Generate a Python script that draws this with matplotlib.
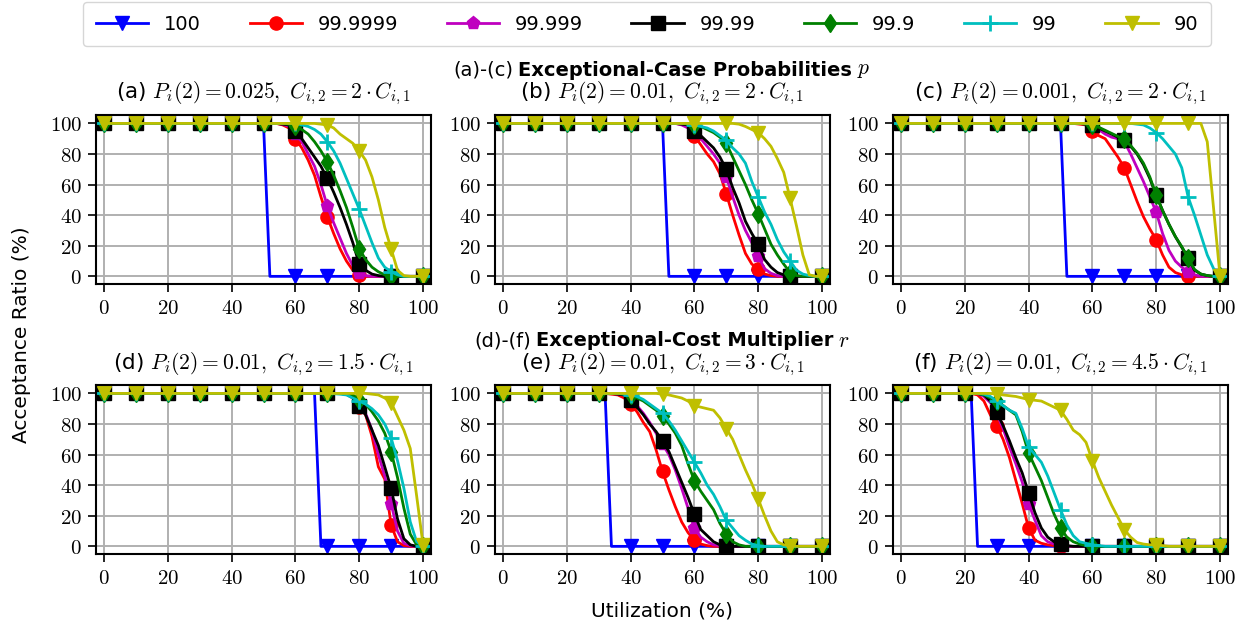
import matplotlib
matplotlib.use("Agg")
import matplotlib.pyplot as plt
import numpy as np

plt.rcParams['font.family'] = ['DejaVu Sans']
plt.rcParams['mathtext.fontset'] = 'cm'

# utilization grid (%), values every 2 %
util = list(range(0, 101, 2))

labels = ['100', '99.9999', '99.999', '99.99', '99.9', '99', '90']
colors = ['b', 'r', 'm', 'k', 'g', 'c', 'y']
markers = ['v', 'o', 'p', 's', 'd', '+', 'v']

# (a) P_i(2)=0.025, C_i2 = 2 C_i1
a_100 = [100] * 26 + [0] * 25
a_99_9999 = [100] * 28 + [99, 97, 90, 84, 76, 66, 52, 39, 28, 18, 10, 4, 1] + [0] * 10
a_99_999 = [100] * 28 + [99.5, 98, 93, 88, 80, 72, 60, 46, 35, 25, 15, 7, 2, 0.5] + [0] * 9
a_99_99 = [100] * 28 + [99.5, 99, 95, 90, 84, 78, 72, 64, 55, 45, 34, 22, 8, 4, 1.5, 0.5] + [0] * 7
a_99_9 = [100] * 29 + [99.5, 98, 96, 93, 88, 82, 75, 66, 56, 45, 32, 18, 11, 6, 3, 1, 0.5] + [0] * 5
a_99 = [100] * 31 + [99, 98, 96, 93, 88, 82, 74, 64, 54, 44, 33, 22, 12, 6, 3, 1] + [0] * 4
a_90 = [100] * 34 + [99.5, 99, 97, 93, 90, 87, 82, 76, 65, 50, 32, 18, 4, 0.5] + [0] * 3

# (b) P_i(2)=0.01, C_i2 = 2 C_i1
b_100 = [100] * 26 + [0] * 25
b_99_9999 = [100] * 28 + [99.5, 98, 92, 86, 80, 75, 67, 54, 40, 27, 15, 8, 5, 1.5, 0.5] + [0] * 8
b_99_999 = [100] * 28 + [99, 97, 94, 90, 85, 80, 74, 65, 52, 40, 30, 22, 13, 5, 2, 0.5] + [0] * 7
b_99_99 = [100] * 28 + [99.5, 99, 95, 92, 88, 84, 78, 70, 58, 48, 36, 28, 21, 11, 6, 2.5, 1, 0.5] + [0] * 5
b_99_9 = [100] * 29 + [99.5, 99, 98, 96, 94, 91, 87, 78, 69, 60, 50, 41, 31, 21, 14, 8, 2.5, 0.5] + [0] * 4
b_99 = [100] * 30 + [99, 98, 97, 95, 92, 89, 84, 80, 74, 62, 52, 42, 34, 24, 16, 10, 4, 1.5, 0.5] + [0] * 2
b_90 = [100] * 37 + [99.5, 98, 96, 94, 90, 85, 77, 68, 51, 33, 14, 1] + [0] * 2

# (c) P_i(2)=0.001, C_i2 = 2 C_i1
c_100 = [100] * 26 + [0] * 25
c_99_9999 = [100] * 28 + [99.5, 99, 95, 92, 90, 84, 78, 71, 60, 49, 39, 31, 24, 14, 6, 2.5, 1] + [0] * 6
c_99_999 = [100] * 29 + [99.5, 98, 96, 93, 91, 90, 88, 80, 71, 62, 52, 42, 28, 17, 10, 6, 3, 1] + [0] * 4
c_99_99 = [100] * 29 + [99.5, 99, 97, 95, 93, 91, 89, 85, 80, 73, 64, 53, 43, 34, 26, 19, 12, 4, 1.5, 0.5] + [0] * 2
c_99_9 = [100] * 29 + [99.5, 99, 97.5, 95.5, 93.5, 91.5, 89.5, 85.5, 80.5, 74, 65, 53, 43, 34, 26, 19.5, 12, 4.5, 1.5, 0.5] + [0] * 2
c_99 = [100] * 37 + [99.5, 99, 97, 94, 90, 85, 80, 71, 52, 40, 27, 14, 5, 0.5]
c_90 = [100] * 48 + [88, 44, 0]

# (d) P_i(2)=0.01, C_i2 = 1.5 C_i1
d_100 = [100] * 34 + [0] * 17
d_99_9999 = [100] * 38 + [99.5, 97, 91, 86, 72, 52, 44, 14, 3, 0.5] + [0] * 3
d_99_999 = [100] * 38 + [99.5, 97, 93, 87, 76, 60, 46, 28, 10, 2, 0.5] + [0] * 2
d_99_99 = [100] * 38 + [99.5, 98, 92, 86, 76, 66, 52, 38, 18, 5, 1] + [0] * 2
d_99_9 = [100] * 39 + [99, 96, 93, 88, 82, 74, 62, 45, 25, 8, 1] + [0] * 1
d_99 = [100] * 36 + [99.8, 99.5, 99, 97, 95, 93, 90, 86, 80, 71, 56, 38, 16, 3, 0]
d_90 = [100] * 42 + [99.5, 99, 97, 94, 85, 76, 64, 33, 1]

# (e) P_i(2)=0.01, C_i2 = 3 C_i1
e_100 = [100] * 17 + [0] * 34
e_99_9999 = [100] * 17 + [99.5, 99, 97, 93, 88, 81, 75, 63, 49, 37, 26, 16, 9, 4, 1.5, 0.5] + [0] * 18
e_99_999 = [100] * 18 + [99.5, 99, 96, 92, 87, 81, 74, 67, 60, 50, 38, 25, 12, 6, 3, 1, 0.5] + [0] * 16
e_99_99 = [100] * 18 + [99.5, 99, 96, 91, 86, 80, 75, 69, 62, 52, 42, 32, 21, 11, 7, 3, 1, 0.5] + [0] * 15
e_99_9 = [100] * 19 + [99.5, 99, 97, 95, 92, 89, 85, 80, 74, 66, 54, 43, 36, 30, 24, 15, 8, 3, 1] + [0] * 13
e_99 = [100] * 19 + [99.5, 99, 98, 96, 93, 90, 87, 82, 76, 69, 62, 55, 48, 40, 34, 26, 17, 12, 7, 4, 1.5, 0.5] + [0] * 10
e_90 = [100] * 25 + [99.5, 99, 98, 97, 95, 92, 91, 90, 89, 84, 77, 70, 60, 50, 41, 31, 20, 10, 3, 1, 0.5] + [0] * 5

# (f) P_i(2)=0.01, C_i2 = 4.5 C_i1
f_100 = [100] * 12 + [0] * 39
f_99_9999 = [100] * 11 + [100, 99, 95, 86, 79, 70, 58, 43, 28, 12, 4, 2, 1, 0.5] + [0] * 26
f_99_999 = [100] * 12 + [100, 98, 94, 87, 77, 65, 54, 42, 28, 17, 7, 3, 1.5, 0.5] + [0] * 25
f_99_99 = [100] * 12 + [100, 99, 95, 88, 79, 69, 58, 48, 35, 22, 12, 6, 3, 1.5, 0.5] + [0] * 24
f_99_9 = [100] * 12 + [100, 99, 97, 95, 92, 89, 86, 75, 61, 52, 43, 32, 21, 12, 6, 3, 1.5, 0.5] + [0] * 21
f_99 = [100] * 12 + [100, 99.5, 98, 95, 92, 89, 87, 77, 65, 60, 55, 46, 35, 24, 14, 7, 3, 2, 1, 0.5] + [0] * 19
f_90 = [100] * 14 + [100, 99.5, 99, 98.5, 98, 97, 96, 95.5, 95, 93, 91, 89, 83, 76, 73, 68, 56, 45, 36, 27,
                     19, 11, 6, 2.5, 1.5, 1, 1, 0.5] + [0] * 9

panels = [
    (r'(a) $P_i(2) = 0.025,\ C_{i,2} = 2 \cdot C_{i,1}$',
     [a_100, a_99_9999, a_99_999, a_99_99, a_99_9, a_99, a_90]),
    (r'(b) $P_i(2) = 0.01,\ C_{i,2} = 2 \cdot C_{i,1}$',
     [b_100, b_99_9999, b_99_999, b_99_99, b_99_9, b_99, b_90]),
    (r'(c) $P_i(2) = 0.001,\ C_{i,2} = 2 \cdot C_{i,1}$',
     [c_100, c_99_9999, c_99_999, c_99_99, c_99_9, c_99, c_90]),
    (r'(d) $P_i(2) = 0.01,\ C_{i,2} = 1.5 \cdot C_{i,1}$',
     [d_100, d_99_9999, d_99_999, d_99_99, d_99_9, d_99, d_90]),
    (r'(e) $P_i(2) = 0.01,\ C_{i,2} = 3 \cdot C_{i,1}$',
     [e_100, e_99_9999, e_99_999, e_99_99, e_99_9, e_99, e_90]),
    (r'(f) $P_i(2) = 0.01,\ C_{i,2} = 4.5 \cdot C_{i,1}$',
     [f_100, f_99_9999, f_99_999, f_99_99, f_99_9, f_99, f_90]),
]

ticks = [0, 20, 40, 60, 80, 100]

W, H = 1251, 633
fig = plt.figure(figsize=(W / 100, H / 100), dpi=100)

lefts = [96, 495, 893]
tops = [115, 385]
aw, ah = 335, 169

handles = []
for k, (title, series) in enumerate(panels):
    row, col = divmod(k, 3)
    l, t = lefts[col], tops[row]
    ax = fig.add_axes([l / W, 1 - (t + ah) / H, aw / W, ah / H])
    for ys, lab, c, m in zip(series, labels, colors, markers):
        assert len(ys) == len(util), (title, lab, len(ys))
        ln, = ax.plot(util, ys, color=c, marker=m, markevery=5, lw=2,
                      ms=11 if m == '+' else 9.5, mew=2 if m == '+' else 1, label=lab)
        if k == 0:
            handles.append(ln)
    ax.set_xlim(-2.5, 102.5)
    ax.set_ylim(-5, 105.5)
    ax.set_xticks(ticks, labels=[f'${v}$' for v in ticks])
    ax.set_yticks(ticks, labels=[f'${v}$' for v in ticks])
    ax.tick_params(labelsize=15, direction='out', length=6, width=1.2, pad=4)
    ax.grid(True, color='#b0b0b0', lw=1.4)
    ax.set_axisbelow(True)
    for sp in ax.spines.values():
        sp.set_linewidth(1.5)
    fig.text((l + aw / 2) / W, 1 - ([93, 364][row]) / H, title, ha='center', va='center', fontsize=15.5)


# section titles: regular + bold + math parts
def section(y_px, prefix, bold, sym):
    r = fig.canvas.get_renderer()
    parts = [fig.text(0, 1 - y_px / H, prefix, fontsize=14, va='center'),
             fig.text(0, 1 - y_px / H, bold, fontsize=14, fontweight='bold', va='center'),
             fig.text(0, 1 - y_px / H, sym, fontsize=15.5, va='center')]
    gap = 5
    widths = [p.get_window_extent(r).width for p in parts]
    x = 662 - (sum(widths) + 2 * gap) / 2
    for p, w in zip(parts, widths):
        p.set_x(x / W)
        x += w + gap


section(70, '(a)-(c)', 'Exceptional-Case Probabilities', '$p$')
section(341, '(d)-(f)', 'Exceptional-Cost Multiplier', '$r$')

fig.text(22 / W, 1 - 335 / H, 'Acceptance Ratio (%)', rotation=90, ha='center', va='center', fontsize=14.5)
fig.text(662 / W, 1 - 611 / H, 'Utilization (%)', ha='center', va='center', fontsize=14.5)

fig.legend(handles, labels, loc='upper center', bbox_to_anchor=(647 / W, 1 - 2 / H), ncol=7,
           fontsize=14, handlelength=2.7, handletextpad=0.8, columnspacing=2.5,
           borderpad=0.65, borderaxespad=0, fancybox=True, edgecolor='#cccccc')

fig.savefig('out.png', dpi=100)
